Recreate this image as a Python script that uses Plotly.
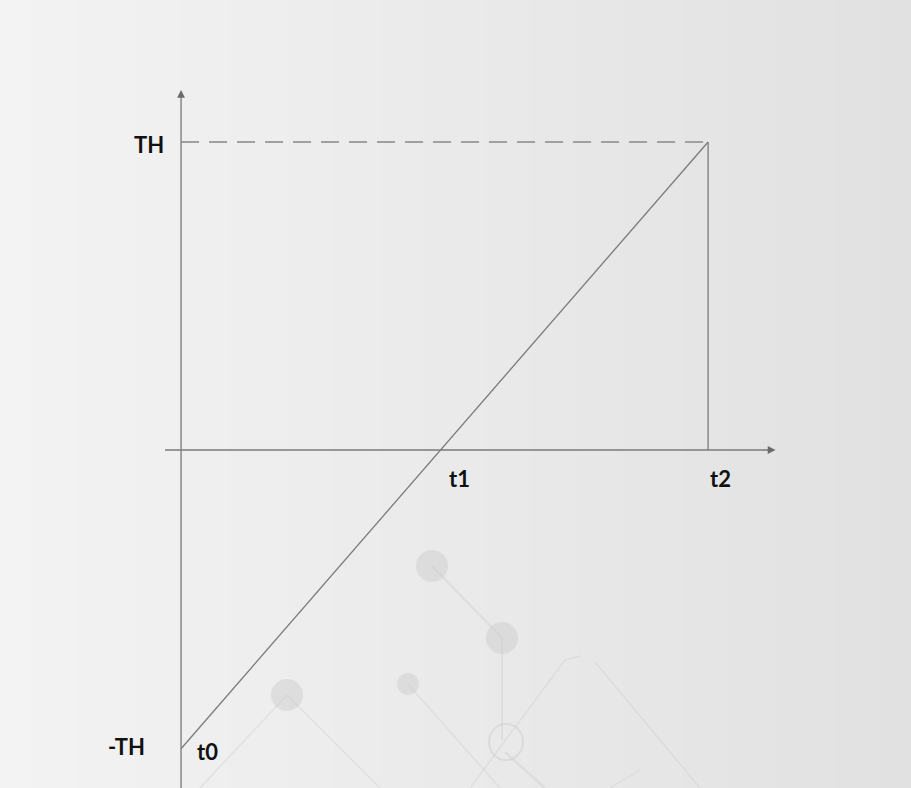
import plotly.graph_objects as go

# ---- data ----
time_labels = ["t0", "t1", "t2"]
time_values = [0.0, 1.0, 2.0]
level_labels = ["-TH", "TH"]
level_values = [-0.97, 1.0]
ramp_x = [0.0, 2.0]
ramp_y = [-0.97, 1.0]

W, H = 911, 788
# axis ranges chosen so the diagram fills the canvas
x_range = [-0.687, 2.770]
y_range = [-1.0974, 1.461]

fig = go.Figure()

# ramp line
fig.add_trace(go.Scatter(x=ramp_x, y=ramp_y, mode="lines",
                         line=dict(color="#7a7a7a", width=1.3),
                         hoverinfo="skip", showlegend=False))
# dashed TH level
fig.add_trace(go.Scatter(x=[0.0, time_values[2]], y=[level_values[1]] * 2, mode="lines",
                         line=dict(color="#a0a0a0", width=2, dash="18px,10px"),
                         hoverinfo="skip", showlegend=False))
# vertical at t2
fig.add_trace(go.Scatter(x=[time_values[2]] * 2, y=[0.0, level_values[1]], mode="lines",
                         line=dict(color="#7a7a7a", width=1.3),
                         hoverinfo="skip", showlegend=False))

shapes = []
# background gradient (left light -> right darker)
n = 60
for i in range(n):
    f = i / (n - 1)
    c = int(round(0xf3 - f * (0xf3 - 0xe1)))
    shapes.append(dict(type="rect", xref="paper", yref="paper",
                       x0=i / n, x1=(i + 1) / n + 0.002, y0=0, y1=1,
                       fillcolor=f"rgb({c},{c},{c})", line=dict(width=0), layer="below"))

# faint decorative background elements
def px(x):
    return x / W
def py(y):
    return 1 - y / H

deco = "rgba(205,205,205,0.5)"
deco_line = "rgba(205,205,205,0.4)"
for (cx, cy, r) in [(432, 566, 16), (502, 638, 16), (287, 695, 16), (408, 684, 11)]:
    shapes.append(dict(type="circle", xref="paper", yref="paper",
                       x0=px(cx - r), x1=px(cx + r), y0=py(cy + r), y1=py(cy - r),
                       fillcolor=deco, line=dict(width=0), layer="below"))
shapes.append(dict(type="circle", xref="paper", yref="paper",
                   x0=px(489), x1=px(523), y0=py(760), y1=py(724),
                   fillcolor="rgba(0,0,0,0)", line=dict(color=deco, width=2), layer="below"))
for (x0, y0, x1, y1, w) in [(432, 566, 502, 638, 2.5), (502, 638, 502, 740, 2),
                            (408, 684, 500, 788, 1.5), (287, 695, 200, 788, 1.5),
                            (287, 695, 380, 788, 1.5), (505, 752, 545, 788, 2.5),
                            (470, 788, 565, 660, 1.5), (565, 660, 580, 656, 1.5),
                            (595, 662, 700, 788, 1.5), (610, 788, 640, 770, 1.2)]:
    shapes.append(dict(type="line", xref="paper", yref="paper",
                       x0=px(x0), y0=py(y0), x1=px(x1), y1=py(y1),
                       line=dict(color=deco_line, width=w), layer="below"))

# axes lines
shapes.append(dict(type="line", xref="x", yref="y", x0=0, x1=0, y0=y_range[0], y1=1.15,
                   line=dict(color="#7a7a7a", width=1.3)))
shapes.append(dict(type="line", xref="x", yref="y", x0=-0.061, x1=2.23, y0=0, y1=0,
                   line=dict(color="#7a7a7a", width=1.3)))

annotations = []
# arrowheads
annotations.append(dict(x=0, y=1.169, ax=0, ay=1.14, xref="x", yref="y", axref="x", ayref="y",
                        showarrow=True, arrowhead=2, arrowsize=1.2, arrowwidth=1.3,
                        arrowcolor="#6a6a6a", text=""))
annotations.append(dict(x=2.256, y=0, ax=2.22, ay=0, xref="x", yref="y", axref="x", ayref="y",
                        showarrow=True, arrowhead=2, arrowsize=1.2, arrowwidth=1.3,
                        arrowcolor="#6a6a6a", text=""))

lab_font = dict(family="Lato, Open Sans, sans-serif", size=22, color="#111111")
# level labels
annotations.append(dict(x=0, y=level_values[1], xref="x", yref="y", text="<b>TH</b>",
                        showarrow=False, xanchor="right", xshift=-15, yshift=-3, font=lab_font))
annotations.append(dict(x=0, y=level_values[0], xref="x", yref="y", text="<b>-TH</b>",
                        showarrow=False, xanchor="right", xshift=-34, yshift=2, font=lab_font))
# time labels
annotations.append(dict(x=time_values[0], y=level_values[0], xref="x", yref="y", text="<b>t0</b>",
                        showarrow=False, xanchor="left", xshift=14, yshift=-3, font=lab_font))
annotations.append(dict(x=time_values[1], y=0, xref="x", yref="y", text="<b>t1</b>",
                        showarrow=False, xanchor="center", xshift=15, yshift=-28, font=lab_font))
annotations.append(dict(x=time_values[2], y=0, xref="x", yref="y", text="<b>t2</b>",
                        showarrow=False, xanchor="center", xshift=12, yshift=-28, font=lab_font))

fig.update_layout(
    width=W, height=H,
    margin=dict(l=0, r=0, t=0, b=0),
    paper_bgcolor="#ebebeb", plot_bgcolor="rgba(0,0,0,0)",
    xaxis=dict(range=x_range, visible=False, fixedrange=True),
    yaxis=dict(range=y_range, visible=False, fixedrange=True),
    shapes=shapes, annotations=annotations, showlegend=False,
)

fig.write_html("out.html", config={"displayModeBar": False},
               post_script="document.body.style.margin='0';document.body.style.overflow='hidden';")
